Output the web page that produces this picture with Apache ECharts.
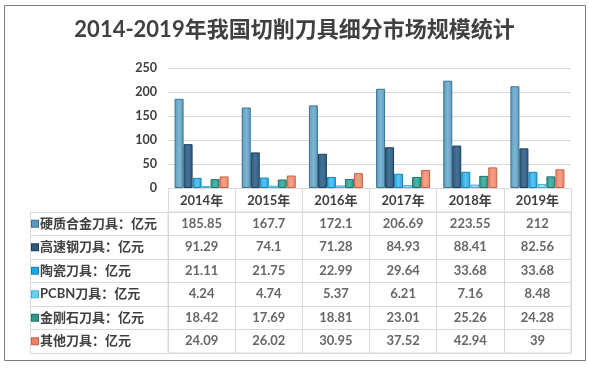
<!DOCTYPE html>
<html><head><meta charset="utf-8">
<script src="https://cdn.jsdelivr.net/npm/echarts@6/dist/echarts.min.js"></script>
<style>html,body{margin:0;padding:0;background:#fff}#c{width:589px;height:368px}</style>
</head><body><div id="c"></div>
<script>
const title = '2014-2019年我国切削刀具细分市场规模统计';
const years = ['2014年','2015年','2016年','2017年','2018年','2019年'];
const seriesNames = ['硬质合金刀具：亿元','高速钢刀具：亿元','陶瓷刀具：亿元','PCBN刀具：亿元','金刚石刀具：亿元','其他刀具：亿元'];
const hardAlloy = [185.85,167.7,172.1,206.69,223.55,212];
const highSpeed = [91.29,74.1,71.28,84.93,88.41,82.56];
const ceramic = [21.11,21.75,22.99,29.64,33.68,33.68];
const pcbn = [4.24,4.74,5.37,6.21,7.16,8.48];
const diamond = [18.42,17.69,18.81,23.01,25.26,24.28];
const others = [24.09,26.02,30.95,37.52,42.94,39];
const yTicks = {min:0,max:250,interval:50};

const values = [hardAlloy,highSpeed,ceramic,pcbn,diamond,others];
const colors = ['#5a9abd','#2f5a7b','#1ea7e4','#6bd2ee','#2d978a','#ee8266'];
const lights = ['#7fb6d3','#44739a','#5cc4f2','#a4e6f8','#4fb5a8','#f6a189'];
const borders = ['#3d7391','#1e3e57','#1582b5','#45b3d3','#1f7267','#c8624a'];
const font = "Lato, 'Noto Sans CJK SC', sans-serif";
const lineC = '#d9d9d9';

const chart = echarts.init(document.getElementById('c'), null, {renderer:'canvas'});
const rich = {};
seriesNames.forEach((n,i)=>{ rich['s'+i] = {width:6,height:6,backgroundColor:colors[i],borderColor:borders[i],borderWidth:1}; });
rich.t = {fontFamily:font,fontWeight:'bold',fontSize:13,color:'#404040',padding:[0,0,0,2]};

const series = values.map((v,i)=>({
  type:'bar', name:seriesNames[i], xAxisIndex:0, yAxisIndex:0, data:v,
  barWidth:9, barGap:'0%',
  itemStyle:{color:new echarts.graphic.LinearGradient(0,0,1,0,[{offset:0,color:colors[i]},{offset:0.5,color:lights[i]},{offset:1,color:colors[i]}]),borderColor:borders[i],borderWidth:1}
}));
values.forEach((v,i)=>{
  series.push({type:'scatter',xAxisIndex:1,yAxisIndex:1,symbolSize:0,silent:true,
    data:v.map((x,j)=>[years[j],seriesNames[i],x]),
    label:{show:true,position:'inside',formatter:p=>String(p.value[2]),fontFamily:font,fontWeight:'bold',fontSize:13,color:'#404040'}});
});

chart.setOption({
  animation:false,
  title:{text:title,left:'center',top:14,textStyle:{fontFamily:font,fontWeight:'bold',fontSize:22,color:'#404040'}},
  graphic:[{type:'rect',shape:{x:4.5,y:5.5,width:581,height:355},style:{fill:'none',stroke:'#7f7f7f',lineWidth:1}}],
  grid:[{left:168,right:18,top:68,height:120},{left:168,right:18,top:212,height:141,show:true,borderColor:lineC,borderWidth:1}],
  xAxis:[
    {type:'category',gridIndex:0,data:years,axisLine:{lineStyle:{color:lineC}},
     axisTick:{show:true,length:24,interval:0,lineStyle:{color:lineC}},
     axisLabel:{margin:6,fontFamily:font,fontWeight:'bold',fontSize:13,color:'#404040',interval:0}},
    {type:'category',gridIndex:1,data:years,axisLine:{show:false},axisTick:{show:false},axisLabel:{show:false},
     splitLine:{show:true,interval:0,lineStyle:{color:lineC}}}
  ],
  yAxis:[
    {type:'value',gridIndex:0,min:yTicks.min,max:yTicks.max,interval:yTicks.interval,
     splitLine:{lineStyle:{color:lineC}},axisLine:{show:false},axisTick:{show:false},
     axisLabel:{margin:11,fontFamily:font,fontWeight:'bold',fontSize:12.5,color:'#404040'}},
    {type:'category',gridIndex:1,data:seriesNames,inverse:true,axisLine:{show:false},
     axisTick:{show:true,length:138,interval:0,lineStyle:{color:lineC}},
     splitLine:{show:true,interval:0,lineStyle:{color:lineC}},
     axisLabel:{interval:0,align:'left',margin:136,formatter:(v,i)=>'{s'+i+'|}{t|'+v+'}',rich:rich}},
    {type:'category',gridIndex:1,data:seriesNames,inverse:true,position:'left',offset:138,
     axisLine:{show:true,lineStyle:{color:lineC}},axisTick:{show:false},axisLabel:{show:false},splitLine:{show:false}}
  ],
  series:series
});
</script></body></html>
